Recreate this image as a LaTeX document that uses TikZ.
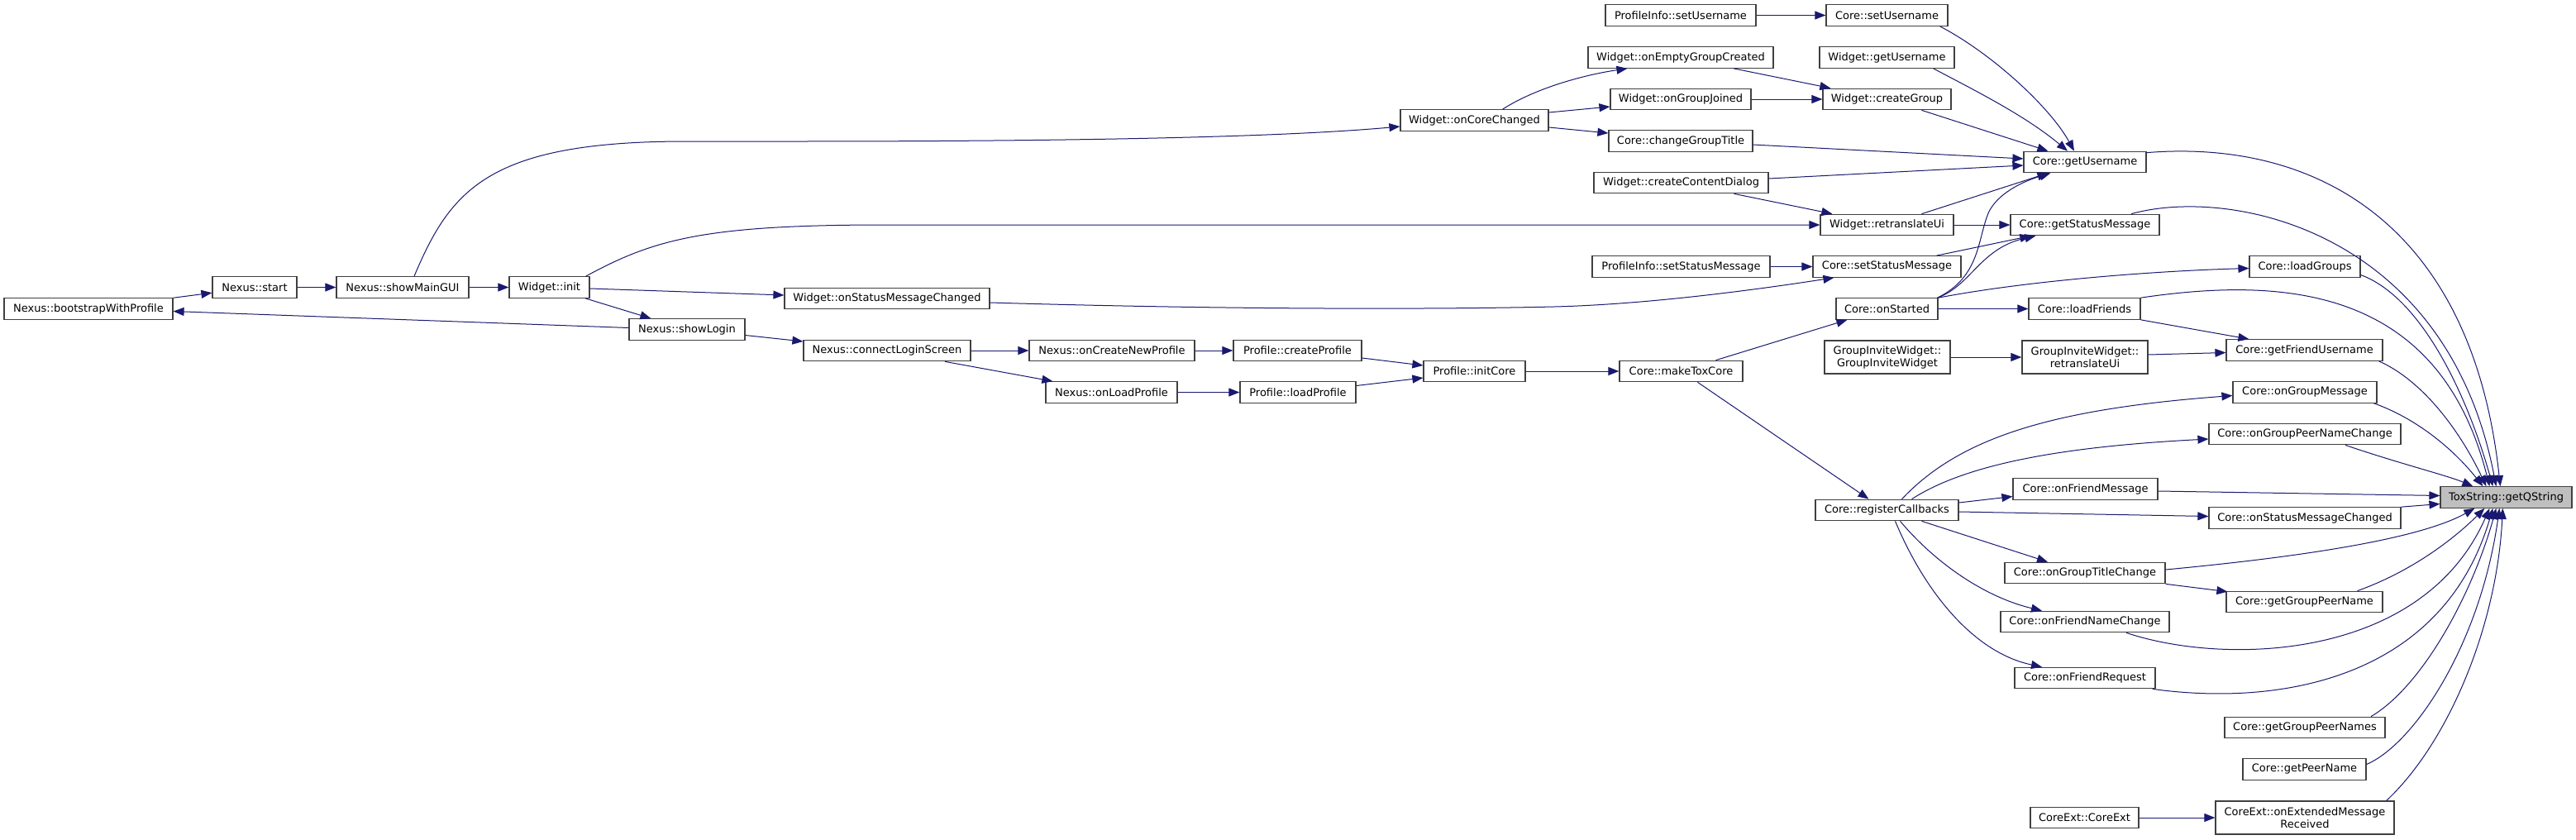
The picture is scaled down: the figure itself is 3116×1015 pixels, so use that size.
\documentclass[tikz,border=0pt]{standalone}
\usepackage{fontspec}
\setmainfont{DejaVu Sans}
\usetikzlibrary{arrows.meta,calc}
\definecolor{edgeblue}{HTML}{191970}
\definecolor{nodeborder}{HTML}{404040}
\definecolor{hilite}{HTML}{BFBFBF}
\begin{document}
\begin{tikzpicture}[x=1pt,y=-1pt,
  fn/.style={draw=nodeborder, line width=1.2pt, fill=white, minimum height=25.5pt, inner sep=0pt,
    font=\fontsize{13}{15}\selectfont, text=black, align=center},
  fntwo/.style={fn, minimum height=40pt},
  e/.style={draw=edgeblue, line width=1pt, -{Triangle[length=13pt,width=10pt]}}]
\fill[white] (0,0) rectangle (3116,1015);
\useasboundingbox (0,0) rectangle (3116,1015);

% ---- nodes ----
\node[fn, minimum width=204pt] (bootstrap) at (107,373.5) {Nexus::bootstrapWithProfile};
\node[fn, minimum width=102pt] (start) at (308,347.5) {Nexus::start};
\node[fn, minimum width=160pt] (showMainGUI) at (487,347.5) {Nexus::showMainGUI};
\node[fn, minimum width=97pt] (winit) at (664.5,347.5) {Widget::init};
\node[fn, minimum width=140pt] (showLogin) at (831,398.5) {Nexus::showLogin};
\node[fn, minimum width=248pt] (wOnStatusMsg) at (1073,361) {Widget::onStatusMessageChanged};
\node[fn, minimum width=202pt] (connectLogin) at (1073,424) {Nexus::connectLoginScreen};
\node[fn, minimum width=200pt] (onCreateNewProfile) at (1345,424) {Nexus::onCreateNewProfile};
\node[fn, minimum width=159pt] (onLoadProfile) at (1344.5,474.5) {Nexus::onLoadProfile};
\node[fn, minimum width=155pt] (createProfile) at (1569.5,424) {Profile::createProfile};
\node[fn, minimum width=140pt] (loadProfile) at (1570,474.5) {Profile::loadProfile};
\node[fn, minimum width=179pt] (onCoreChanged) at (1783.5,145.5) {Widget::onCoreChanged};
\node[fn, minimum width=123pt] (initCore) at (1783.5,449) {Profile::initCore};
\node[fn, minimum width=182pt] (piSetUsername) at (2033,18.5) {ProfileInfo::setUsername};
\node[fn, minimum width=224pt] (onEmptyGroup) at (2033,69.5) {Widget::onEmptyGroupCreated};
\node[fn, minimum width=170pt] (onGroupJoined) at (2033,120) {Widget::onGroupJoined};
\node[fn, minimum width=174pt] (changeGroupTitle) at (2033,170.5) {Core::changeGroupTitle};
\node[fn, minimum width=211pt] (createContentDialog) at (2033.5,221) {Widget::createContentDialog};
\node[fn, minimum width=215pt] (piSetStatus) at (2033.5,322.5) {ProfileInfo::setStatusMessage};
\node[fn, minimum width=149pt] (makeToxCore) at (2033.5,449) {Core::makeToxCore};
\node[fn, minimum width=147pt] (cSetUsername) at (2282.5,18.5) {Core::setUsername};
\node[fn, minimum width=163pt] (wGetUsername) at (2282.5,69.5) {Widget::getUsername};
\node[fn, minimum width=155pt] (createGroup) at (2282.5,120) {Widget::createGroup};
\node[fn, minimum width=161pt] (wRetranslate) at (2282.5,272) {Widget::retranslateUi};
\node[fn, minimum width=179pt] (cSetStatus) at (2282.5,322.5) {Core::setStatusMessage};
\node[fn, minimum width=123pt] (onStarted) at (2282.5,373.5) {Core::onStarted};
\node[fntwo, minimum width=152pt] (giwCtor) at (2283,432) {GroupInviteWidget::\\GroupInviteWidget};
\node[fn, minimum width=173pt] (registerCallbacks) at (2282.5,617) {Core::registerCallbacks};
\node[fn, minimum width=148pt] (cGetUsername) at (2522,196) {Core::getUsername};
\node[fn, minimum width=180pt] (cGetStatus) at (2522,272) {Core::getStatusMessage};
\node[fn, minimum width=135pt] (loadFriends) at (2521.5,373.5) {Core::loadFriends};
\node[fntwo, minimum width=152pt] (giwRetranslate) at (2522,432) {GroupInviteWidget::\\retranslateUi};
\node[fn, minimum width=175pt] (onFriendMessage) at (2522.5,591.5) {Core::onFriendMessage};
\node[fn, minimum width=194pt] (onGroupTitleChange) at (2522,693) {Core::onGroupTitleChange};
\node[fn, minimum width=204pt] (onFriendNameChange) at (2522,752) {Core::onFriendNameChange};
\node[fn, minimum width=170pt] (onFriendRequest) at (2522,820) {Core::onFriendRequest};
\node[fn, minimum width=131pt] (coreExtCtor) at (2521.5,989) {CoreExt::CoreExt};
\node[fn, minimum width=134pt] (loadGroups) at (2788,322.5) {Core::loadGroups};
\node[fn, minimum width=189pt] (getFriendUsername) at (2787.5,423.5) {Core::getFriendUsername};
\node[fn, minimum width=174pt] (onGroupMessage) at (2788,474.5) {Core::onGroupMessage};
\node[fn, minimum width=232pt] (onGroupPeerNameChange) at (2788,525) {Core::onGroupPeerNameChange};
\node[fn, minimum width=232pt] (onStatusMessageChanged) at (2788,626.5) {Core::onStatusMessageChanged};
\node[fn, minimum width=189pt] (getGroupPeerName) at (2787.5,728) {Core::getGroupPeerName};
\node[fn, minimum width=194pt] (getGroupPeerNames) at (2788,880) {Core::getGroupPeerNames};
\node[fn, minimum width=149pt] (getPeerName) at (2787.5,930.5) {Core::getPeerName};
\node[fntwo, minimum width=216pt] (onExtMsg) at (2788,989) {CoreExt::onExtendedMessage\\Received};
\node[fn, fill=hilite, minimum width=159pt] (getQString) at (3031.5,601.5) {ToxString::getQString};

% ---- edges: left part ----
\draw[e] (bootstrap) -- (start);
\draw[e] (start) -- (showMainGUI);
\draw[e] (showMainGUI) -- (winit);
\draw[e] (winit) -- (showLogin);
\draw[e] ($(showLogin.west)+(0,-2)$) -- ($(bootstrap.east)+(0,3)$);
\draw[e] ($(showLogin.east)+(0,7)$) -- ($(connectLogin.west)+(0,-11)$);
\draw[e] (connectLogin) -- (onCreateNewProfile);
\draw[e] ($(connectLogin.south)+(70,0)$) -- ($(onLoadProfile.north west)+(9,0)$);
\draw[e] (onCreateNewProfile) -- (createProfile);
\draw[e] (onLoadProfile) -- (loadProfile);
\draw[e] ($(createProfile.east)+(0,9)$) -- ($(initCore.west)+(0,-7)$);
\draw[e] ($(loadProfile.east)+(0,-8)$) -- ($(initCore.west)+(0,8)$);
\draw[e] (initCore) -- (makeToxCore);
\draw[e] ($(makeToxCore.north)+(42,0)$) -- ($(onStarted.south west)+(14,0)$);
\draw[e] ($(makeToxCore.south)+(20,0)$) -- ($(registerCallbacks.north)+(-22,0)$);
\draw[e] ($(showMainGUI.north)+(14,0)$) .. controls (545,230) and (590,171) .. (830,171)
  -- (960,171) .. controls (1300,171) and (1550,166) .. ($(onCoreChanged.west)+(0,7.5)$);
\draw[e] ($(winit.north east)+(-5,0)$) .. controls (790,290) and (850,272) .. (1070,272) -- (wRetranslate.west);
\draw[e] ($(winit.east)+(0,1.5)$) -- ($(wOnStatusMsg.west)+(0,-4)$);
\draw[e] ($(wOnStatusMsg.east)+(0,5)$) .. controls (1500,375) and (1750,374) .. (1880,371)
  .. controls (2000,368) and (2140,348) .. ($(cSetStatus.south west)+(26,0)$);

% ---- edges: upper middle ----
\draw[e] ($(onCoreChanged.north)+(34,0)$) .. controls (1860,105) and (1920,90) .. ($(onEmptyGroup.south west)+(48,0)$);
\draw[e] ($(onCoreChanged.east)+(0,-9.5)$) -- ($(onGroupJoined.west)+(0,9)$);
\draw[e] ($(onCoreChanged.east)+(0,8.5)$) -- ($(changeGroupTitle.west)+(0,-9.5)$);
\draw[e] ($(onEmptyGroup.south)+(64,0)$) -- ($(createGroup.north west)+(10,0)$);
\draw[e] (onGroupJoined) -- (createGroup);
\draw[e] (piSetUsername) -- (cSetUsername);
\draw[e] ($(cSetUsername.south east)+(-10,0)$) .. controls (2410,65) and (2480,130) .. ($(cGetUsername.north)+(-13,0)$);
\draw[e] ($(wGetUsername.south east)+(-26,0)$) .. controls (2390,110) and (2450,140) .. ($(cGetUsername.north)+(-21,0)$);
\draw[e] ($(createGroup.south)+(42,0)$) -- ($(cGetUsername.north west)+(30,0)$);
\draw[e] ($(changeGroupTitle.east)+(0,4.5)$) -- ($(cGetUsername.west)+(0,-4)$);
\draw[e] ($(createContentDialog.east)+(0,-5)$) -- ($(cGetUsername.west)+(0,4)$);
\draw[e] ($(createContentDialog.south)+(64,0)$) -- ($(wRetranslate.north west)+(15,0)$);
\draw[e] ($(wRetranslate.north)+(42,0)$) -- ($(cGetUsername.south west)+(30,0)$);
\draw[e] (wRetranslate) -- (cGetStatus);
\draw[e] (piSetStatus) -- (cSetStatus);
\draw[e] ($(cSetStatus.north)+(60,0)$) -- ($(cGetStatus.south west)+(25,0)$);
\draw[e] ($(onStarted.north east)+(-1,0)$) .. controls (2385,345) and (2395,300) .. ($(cGetStatus.south west)+(31,0)$);
\draw[e] ($(onStarted.north east)+(-1,0)$) .. controls (2395,335) and (2392,290) .. (2405,258)
  .. controls (2415,235) and (2445,220) .. ($(cGetUsername.south west)+(33,0)$);
\draw[e] (onStarted.north east) .. controls (2450,340) and (2600,328) .. ($(loadGroups.west)+(0,2)$);
\draw[e] (onStarted) -- (loadFriends);
\draw[e] (loadFriends.south east) -- ($(getFriendUsername.north west)+(28,0)$);
\draw[e] (giwCtor) -- (giwRetranslate);
\draw[e] ($(giwRetranslate.east)+(0,-3)$) -- ($(getFriendUsername.west)+(0,3)$);

% ---- edges: registerCallbacks ----
\draw[e] ($(registerCallbacks.north)+(18,0)$) .. controls (2370,530) and (2480,495) .. ($(onGroupMessage.west)+(0,4)$);
\draw[e] ($(registerCallbacks.north)+(30,0)$) .. controls (2380,560) and (2500,540) .. ($(onGroupPeerNameChange.west)+(0,6)$);
\draw[e] ($(registerCallbacks.east)+(0,-9)$) -- ($(onFriendMessage.west)+(0,9)$);
\draw[e] ($(registerCallbacks.east)+(0,2)$) -- ($(onStatusMessageChanged.west)+(0,-2)$);
\draw[e] ($(registerCallbacks.south)+(42,0)$) -- ($(onGroupTitleChange.north)+(-45,0)$);
\draw[e] ($(registerCallbacks.south)+(16,0)$) .. controls (2340,680) and (2400,722) .. ($(onFriendNameChange.north)+(-52,0)$);
\draw[e] ($(registerCallbacks.south)+(10,0)$) .. controls (2330,720) and (2390,790) .. ($(onFriendRequest.north)+(-52,0)$);
\draw[e] (onGroupTitleChange.south east) -- ($(getGroupPeerName.north west)+(2,1)$);
\draw[e] (coreExtCtor) -- (onExtMsg);

% ---- edges into ToxString::getQString ----
\draw[e] ($(cGetUsername.north east)+(0,2)$) .. controls (2800,168) and (2990,270) .. ($(getQString.north west)+(73,0)$);
\draw[e] ($(cGetStatus.north)+(56,0)$) .. controls (2700,225) and (2960,280) .. ($(getQString.north west)+(68,0)$);
\draw[e] ($(loadGroups.east)+(0,10)$) .. controls (2930,360) and (2985,480) .. ($(getQString.north west)+(64,0)$);
\draw[e] (loadFriends.north east) .. controls (2760,335) and (2950,345) .. ($(getQString.north west)+(60,0)$);
\draw[e] ($(getFriendUsername.south east)+(-5,0)$) .. controls (2930,460) and (2975,520) .. ($(getQString.north west)+(56,0)$);
\draw[e] ($(onGroupMessage.south east)+(-4,0)$) .. controls (2920,505) and (2965,540) .. ($(getQString.north west)+(52,0)$);
\draw[e] ($(onGroupPeerNameChange.south)+(49,0)$) .. controls (2900,560) and (2960,575) .. ($(getQString.north west)+(40,0)$);
\draw[e] ($(onFriendMessage.east)+(0,2.5)$) -- ($(getQString.west)+(0,-2)$);
\draw[e] (onStatusMessageChanged.north east) -- ($(getQString.west)+(0,8)$);
\draw[e] ($(onGroupTitleChange.east)+(0,-4)$) .. controls (2800,672) and (2930,650) .. ($(getQString.south west)+(42,0)$);
\draw[e] ($(getGroupPeerName.north)+(64,0)$) .. controls (2920,690) and (2970,650) .. ($(getQString.south west)+(54,0)$);
\draw[e] ($(onFriendNameChange.south)+(50,0)$) .. controls (2690,805) and (2930,800) .. ($(getQString.south west)+(60,0)$);
\draw[e] ($(onFriendRequest.south east)+(-4,0)$) .. controls (2760,855) and (2955,820) .. ($(getQString.south west)+(64,0)$);
\draw[e] ($(getGroupPeerNames.north)+(80,0)$) .. controls (2930,830) and (2990,720) .. ($(getQString.south west)+(68,0)$);
\draw[e] ($(getPeerName.east)+(0,-6)$) .. controls (2920,900) and (3000,780) .. ($(getQString.south west)+(72,0)$);
\draw[e] ($(onExtMsg.north east)+(-10,0)$) .. controls (2960,900) and (3020,760) .. ($(getQString.south west)+(76,0)$);
\end{tikzpicture}
\end{document}
